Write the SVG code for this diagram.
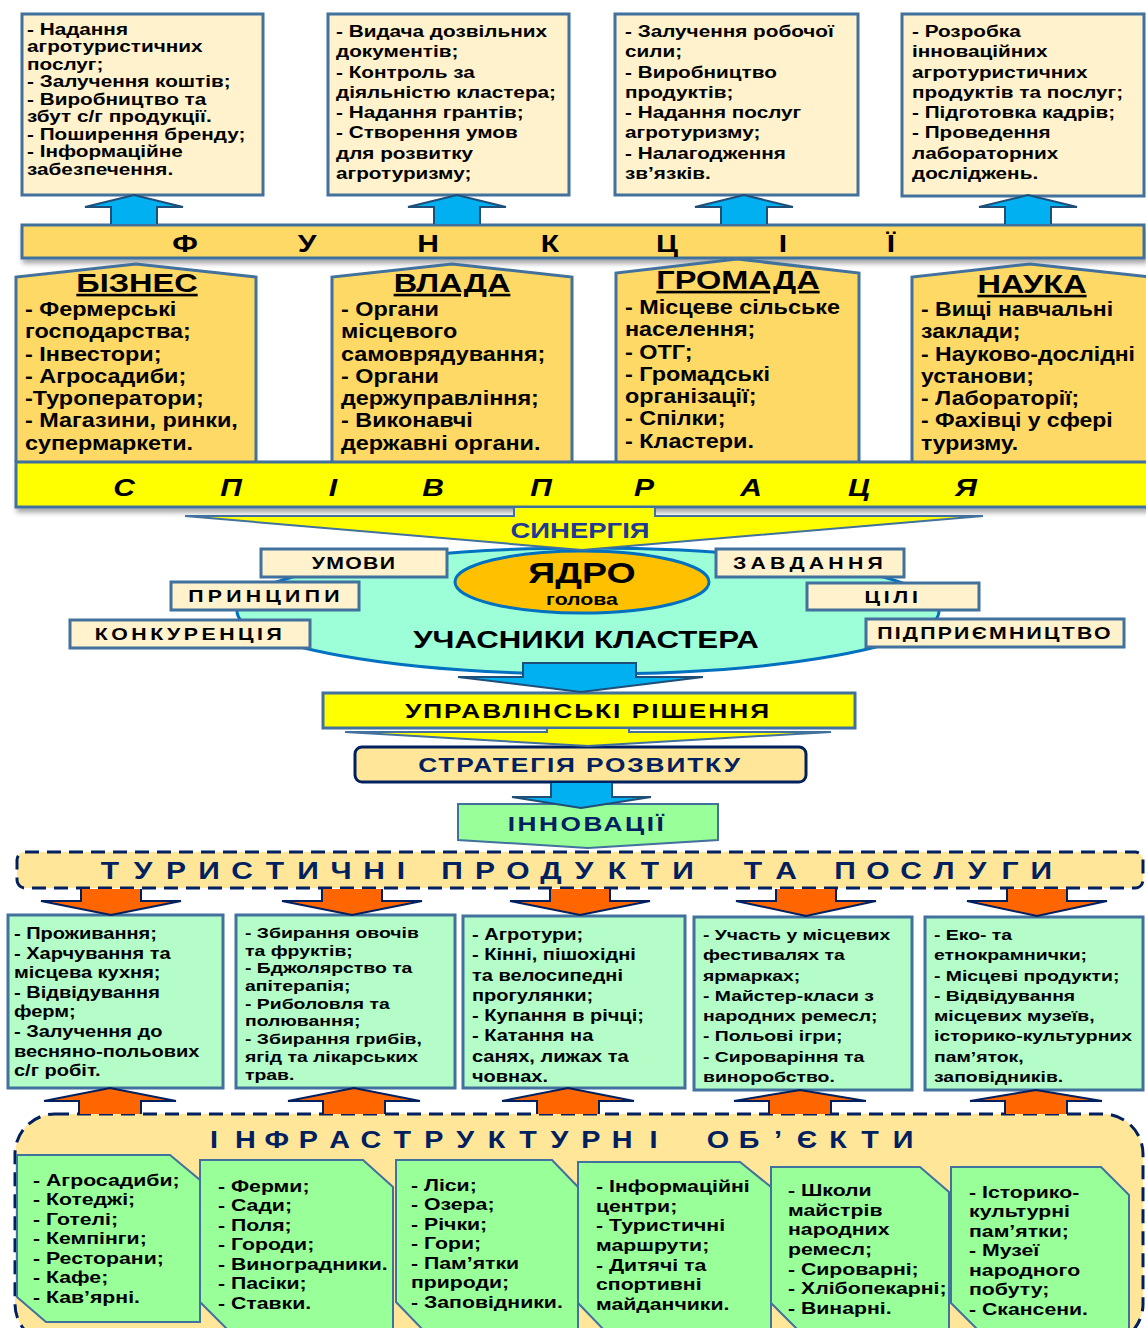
<svg xmlns="http://www.w3.org/2000/svg" width="1146" height="1328" viewBox="0 0 1146 1328">
<defs>
<style>
text{font-family:"Liberation Sans",Arial,sans-serif;font-weight:bold;fill:#000}
.f15{font-size:15.5px}
.f16{font-size:16px}
.f17{font-size:17px}
.f19{font-size:19.5px}
.f21{font-size:21px}
.f22{font-size:22px}
.f23{font-size:23px}
.f24{font-size:24px}
.f26{font-size:26px}
.f30{font-size:30px}
.navy{fill:#002060}
.cream{fill:#fff2cc;stroke:#41719c;stroke-width:3}
.gold{fill:#ffd966;stroke:#41719c;stroke-width:3}
.yel{fill:#ffff00;stroke:#41719c;stroke-width:3}
.mint{fill:#b4fcc8;stroke:#41719c;stroke-width:3}
.lime{fill:#99ff99;stroke:#41719c;stroke-width:2}
.dash{fill:#ffe699;stroke:#002060;stroke-width:3;stroke-dasharray:14 8}
.ab{fill:#00b0f0;stroke:#1f4e79;stroke-width:2}
.ao{fill:#ff6600;stroke:#002060;stroke-width:2}
.ay{fill:#ffff00;stroke:#41719c;stroke-width:2}
</style>
<filter id="sh" x="-5%" y="-30%" width="110%" height="180%">
<feDropShadow dx="2" dy="4" stdDeviation="2.5" flood-color="#000" flood-opacity="0.35"/>
</filter>
</defs>
<rect width="1146" height="1328" fill="#fff"/>

<!-- top function boxes -->
<g id="func-business">
<rect class="cream" x="22" y="14" width="241" height="181"/>
<text class="f17" transform="translate(27 0) scale(1.22 1)">
<tspan x="0" y="35">- Надання</tspan>
<tspan x="0" y="52.5">агротуристичних</tspan>
<tspan x="0" y="70">послуг;</tspan>
<tspan x="0" y="87.5">- Залучення коштів;</tspan>
<tspan x="0" y="105">- Виробництво та</tspan>
<tspan x="0" y="122.5">збут с/г продукції.</tspan>
<tspan x="0" y="140">- Поширення бренду;</tspan>
<tspan x="0" y="157.5">- Інформаційне</tspan>
<tspan x="0" y="175">забезпечення.</tspan>
</text>
</g>
<g id="func-power">
<rect class="cream" x="328" y="14" width="241" height="181"/>
<text class="f17" transform="translate(336 0) scale(1.22 1)">
<tspan x="0" y="37">- Видача дозвільних</tspan>
<tspan x="0" y="57.3">документів;</tspan>
<tspan x="0" y="77.6">- Контроль за</tspan>
<tspan x="0" y="97.9">діяльністю кластера;</tspan>
<tspan x="0" y="118.2">- Надання грантів;</tspan>
<tspan x="0" y="138.5">- Створення умов</tspan>
<tspan x="0" y="158.8">для розвитку</tspan>
<tspan x="0" y="179.1">агротуризму;</tspan>
</text>
</g>
<g id="func-community">
<rect class="cream" x="615" y="14" width="243" height="181"/>
<text class="f17" transform="translate(625 0) scale(1.22 1)">
<tspan x="0" y="37">- Залучення робочої</tspan>
<tspan x="0" y="57.3">сили;</tspan>
<tspan x="0" y="77.6">- Виробництво</tspan>
<tspan x="0" y="97.9">продуктів;</tspan>
<tspan x="0" y="118.2">- Надання послуг</tspan>
<tspan x="0" y="138.5">агротуризму;</tspan>
<tspan x="0" y="158.8">- Налагодження</tspan>
<tspan x="0" y="179.1">зв’язків.</tspan>
</text>
</g>
<g id="func-science">
<rect class="cream" x="902" y="14" width="242" height="182"/>
<text class="f17" transform="translate(912 0) scale(1.22 1)">
<tspan x="0" y="37">- Розробка</tspan>
<tspan x="0" y="57.3">інноваційних</tspan>
<tspan x="0" y="77.6">агротуристичних</tspan>
<tspan x="0" y="97.9">продуктів та послуг;</tspan>
<tspan x="0" y="118.2">- Підготовка кадрів;</tspan>
<tspan x="0" y="138.5">- Проведення</tspan>
<tspan x="0" y="158.8">лабораторних</tspan>
<tspan x="0" y="179.1">досліджень.</tspan>
</text>
</g>

<g id="band-functions">
<rect class="gold" x="22" y="225" width="1122" height="33" filter="url(#sh)"/>
<text class="f24" text-anchor="middle" transform="scale(1.25 1)" x="148 245.6 342.4 440 533.6 626.4 712.8" y="252">ФУНКЦІЇ</text>
</g>

<!-- stakeholders -->
<g id="business">
<path class="gold" d="M16,462 L16,277 L136,264 L256,277 L256,462"/>
<text class="f26" text-anchor="middle" text-decoration="underline" transform="translate(137 0) scale(1.25 1)"><tspan x="0" y="292">БІЗНЕС</tspan></text>
<text class="f19" transform="translate(25 0) scale(1.2 1)">
<tspan x="0" y="316">- Фермерські</tspan>
<tspan x="0" y="338.3">господарства;</tspan>
<tspan x="0" y="360.6">- Інвестори;</tspan>
<tspan x="0" y="382.9">- Агросадиби;</tspan>
<tspan x="0" y="405.2">-Туроператори;</tspan>
<tspan x="0" y="427.5">- Магазини, ринки,</tspan>
<tspan x="0" y="449.8">супермаркети.</tspan>
</text>
</g>
<g id="power">
<path class="gold" d="M332,462 L332,277 L452,264 L572,277 L572,462"/>
<text class="f26" text-anchor="middle" text-decoration="underline" transform="translate(452 0) scale(1.25 1)"><tspan x="0" y="292">ВЛАДА</tspan></text>
<text class="f19" transform="translate(341 0) scale(1.2 1)">
<tspan x="0" y="316">- Органи</tspan>
<tspan x="0" y="338.3">місцевого</tspan>
<tspan x="0" y="360.6">самоврядування;</tspan>
<tspan x="0" y="382.9">- Органи</tspan>
<tspan x="0" y="405.2">держуправління;</tspan>
<tspan x="0" y="427.5">- Виконавчі</tspan>
<tspan x="0" y="449.8">державні органи.</tspan>
</text>
</g>
<g id="community">
<path class="gold" d="M616,464 L616,273 L737,259 L859,273 L859,464"/>
<text class="f26" text-anchor="middle" text-decoration="underline" transform="translate(738 0) scale(1.25 1)"><tspan x="0" y="289">ГРОМАДА</tspan></text>
<text class="f19" transform="translate(625 0) scale(1.2 1)">
<tspan x="0" y="314">- Місцеве сільське</tspan>
<tspan x="0" y="336.3">населення;</tspan>
<tspan x="0" y="358.6">- ОТГ;</tspan>
<tspan x="0" y="380.9">- Громадські</tspan>
<tspan x="0" y="403.2">організації;</tspan>
<tspan x="0" y="425.5">- Спілки;</tspan>
<tspan x="0" y="447.8">- Кластери.</tspan>
</text>
</g>
<g id="science">
<path class="gold" d="M912,462 L912,277 L1030,264 L1150,277 L1150,462"/>
<text class="f26" text-anchor="middle" text-decoration="underline" transform="translate(1032 0) scale(1.25 1)"><tspan x="0" y="293">НАУКА</tspan></text>
<text class="f19" transform="translate(921 0) scale(1.18 1)">
<tspan x="0" y="316">- Вищі навчальні</tspan>
<tspan x="0" y="338.3">заклади;</tspan>
<tspan x="0" y="360.6">- Науково-дослідні</tspan>
<tspan x="0" y="382.9">установи;</tspan>
<tspan x="0" y="405.2">- Лабораторії;</tspan>
<tspan x="0" y="427.5">- Фахівці у сфері</tspan>
<tspan x="0" y="449.8">туризму.</tspan>
</text>
</g>

<g id="band-cooperation">
<rect class="yel" x="16" y="462" width="1132" height="45" filter="url(#sh)"/>
<text class="f24" font-style="italic" text-anchor="middle" transform="scale(1.25 1)" x="99.2 184.8 266.4 346.4 432.8 515.2 600.8 687.2 772.8" y="496">СПІВПРАЦЯ</text>
</g>

<!-- cluster participants -->
<g id="participants">
<ellipse cx="588" cy="611" rx="351" ry="63" fill="#9dffd8" stroke="#0070c0" stroke-width="3"/>
<ellipse cx="582" cy="582" rx="127" ry="31" fill="#ffc000" stroke="#0070c0" stroke-width="3"/>
<text class="f30" text-anchor="middle" transform="translate(582 0) scale(1.25 1)"><tspan x="0" y="583">ЯДРО</tspan></text>
<text class="f17" text-anchor="middle" transform="translate(582 0) scale(1.25 1)"><tspan x="0" y="605">голова</tspan></text>
<text class="f24" text-anchor="middle" transform="translate(586 0) scale(1.3 1)"><tspan x="0" y="648">УЧАСНИКИ КЛАСТЕРА</tspan></text>
</g>
<g id="conditions">
<rect class="cream" x="261" y="549" width="186" height="28"/>
<text class="f17" text-anchor="middle" letter-spacing="1" transform="translate(354 0) scale(1.25 1)"><tspan x="0" y="569">УМОВИ</tspan></text>
</g>
<g id="principles">
<rect class="cream" x="171" y="582" width="188" height="28"/>
<text class="f17" text-anchor="middle" letter-spacing="3.4" transform="translate(266 0) scale(1.25 1)"><tspan x="0" y="602">ПРИНЦИПИ</tspan></text>
</g>
<g id="competition">
<rect class="cream" x="70" y="620" width="240" height="28"/>
<text class="f17" text-anchor="middle" letter-spacing="2.8" transform="translate(190 0) scale(1.25 1)"><tspan x="0" y="640">КОНКУРЕНЦІЯ</tspan></text>
</g>
<g id="tasks">
<rect class="cream" x="716" y="549" width="188" height="28"/>
<text class="f17" text-anchor="middle" letter-spacing="3.4" transform="translate(810 0) scale(1.25 1)"><tspan x="0" y="569">ЗАВДАННЯ</tspan></text>
</g>
<g id="goals">
<rect class="cream" x="807" y="583" width="172" height="27"/>
<text class="f17" text-anchor="middle" letter-spacing="3" transform="translate(893 0) scale(1.25 1)"><tspan x="0" y="603">ЦІЛІ</tspan></text>
</g>
<g id="entrepreneurship">
<rect class="cream" x="866" y="619" width="258" height="28"/>
<text class="f17" text-anchor="middle" letter-spacing="1.8" transform="translate(995 0) scale(1.25 1)"><tspan x="0" y="639">ПІДПРИЄМНИЦТВО</tspan></text>
</g>

<g id="decisions">
<rect class="yel" x="323" y="693" width="532" height="35"/>
<text class="f21" text-anchor="middle" letter-spacing="1.6" transform="translate(588 0) scale(1.25 1)"><tspan x="0" y="718.5">УПРАВЛІНСЬКІ РІШЕННЯ</tspan></text>
</g>
<g id="strategy">
<rect x="355" y="747" width="451" height="35" rx="7" fill="#ffe699" stroke="#002060" stroke-width="3"/>
<text class="f21 navy" text-anchor="middle" letter-spacing="1.5" transform="translate(580 0) scale(1.25 1)"><tspan x="0" y="772.5">СТРАТЕГІЯ РОЗВИТКУ</tspan></text>
</g>
<g id="innovations">
<path class="lime" stroke-width="3" d="M458,804 L718,804 L718,840 L588,848 L458,840 Z"/>
<text class="f21 navy" text-anchor="middle" letter-spacing="2" transform="translate(587 0) scale(1.25 1)"><tspan x="0" y="831.5">ІННОВАЦІЇ</tspan></text>
</g>

<g id="tourist-products">
<rect class="dash" x="17" y="852" width="1126" height="36" rx="8"/>
<text class="f24 navy" text-anchor="middle" transform="scale(1.25 1)" y="879.5"><tspan x="88 114.4 140.8 167.2 193.6 220 246.4 272.8 299.2 320.8">ТУРИСТИЧНІ</tspan><tspan x="361.6 388 414.4 440.8 467.2 493.6 520 546.4">ПРОДУКТИ</tspan><tspan x="602.4 628.8">ТА</tspan><tspan x="676 702.4 728.8 755.2 781.6 808 833">ПОСЛУГИ</tspan></text>
</g>

<!-- product boxes -->
<g id="prod-stay">
<rect class="mint" x="8" y="915" width="215" height="173"/>
<text class="f16" transform="translate(14 0) scale(1.25 1)">
<tspan x="0" y="939">- Проживання;</tspan>
<tspan x="0" y="958.6">- Харчування та</tspan>
<tspan x="0" y="978.2">місцева кухня;</tspan>
<tspan x="0" y="997.8">- Відвідування</tspan>
<tspan x="0" y="1017.4">ферм;</tspan>
<tspan x="0" y="1037">- Залучення до</tspan>
<tspan x="0" y="1056.6">весняно-польових</tspan>
<tspan x="0" y="1076.2">с/г робіт.</tspan>
</text>
</g>
<g id="prod-gathering">
<rect class="mint" x="236" y="915" width="219" height="173"/>
<text class="f15" transform="translate(245 0) scale(1.25 1)">
<tspan x="0" y="938">- Збирання овочів</tspan>
<tspan x="0" y="955.7">та фруктів;</tspan>
<tspan x="0" y="973.4">- Бджолярство та</tspan>
<tspan x="0" y="991.1">апітерапія;</tspan>
<tspan x="0" y="1008.8">- Риболовля та</tspan>
<tspan x="0" y="1026.5">полювання;</tspan>
<tspan x="0" y="1044.2">- Збирання грибів,</tspan>
<tspan x="0" y="1061.9">ягід та лікарських</tspan>
<tspan x="0" y="1079.6">трав.</tspan>
</text>
</g>
<g id="prod-tours">
<rect class="mint" x="463" y="916" width="222" height="172"/>
<text class="f16" transform="translate(472 0) scale(1.25 1)">
<tspan x="0" y="940">- Агротури;</tspan>
<tspan x="0" y="960.3">- Кінні, пішохідні</tspan>
<tspan x="0" y="980.6">та велосипедні</tspan>
<tspan x="0" y="1000.9">прогулянки;</tspan>
<tspan x="0" y="1021.2">- Купання в річці;</tspan>
<tspan x="0" y="1041.5">- Катання на</tspan>
<tspan x="0" y="1061.8">санях, лижах та</tspan>
<tspan x="0" y="1082.1">човнах.</tspan>
</text>
</g>
<g id="prod-festivals">
<rect class="mint" x="694" y="917" width="218" height="173"/>
<text class="f15" transform="translate(703 0) scale(1.25 1)">
<tspan x="0" y="940">- Участь у місцевих</tspan>
<tspan x="0" y="960.3">фестивалях та</tspan>
<tspan x="0" y="980.6">ярмарках;</tspan>
<tspan x="0" y="1000.9">- Майстер-класи з</tspan>
<tspan x="0" y="1021.2">народних ремесл;</tspan>
<tspan x="0" y="1041.5">- Польові ігри;</tspan>
<tspan x="0" y="1061.8">- Сироваріння та</tspan>
<tspan x="0" y="1082.1">виноробство.</tspan>
</text>
</g>
<g id="prod-shops">
<rect class="mint" x="925" y="917" width="218" height="173"/>
<text class="f15" transform="translate(934 0) scale(1.25 1)">
<tspan x="0" y="940">- Еко- та</tspan>
<tspan x="0" y="960.3">етнокрамнички;</tspan>
<tspan x="0" y="980.6">- Місцеві продукти;</tspan>
<tspan x="0" y="1000.9">- Відвідування</tspan>
<tspan x="0" y="1021.2">місцевих музеїв,</tspan>
<tspan x="0" y="1041.5">історико-культурних</tspan>
<tspan x="0" y="1061.8">пам’яток,</tspan>
<tspan x="0" y="1082.1">заповідників.</tspan>
</text>
</g>

<!-- infrastructure -->
<g id="infrastructure">
<rect class="dash" x="15" y="1114" width="1128" height="230" rx="40"/>
<text class="f23 navy" text-anchor="middle" transform="scale(1.25 1)" y="1148"><tspan x="171.2 196.3 221.4 246.6 271.7 296.8 321.9 347 372.2 397.3 422.4 447.5 472.6 497.8 522.9">ІНФРАСТРУКТУРНІ</tspan><tspan x="574.4 599.2 622.4 645.6 670.4 696 722.4">ОБ’ЄКТИ</tspan></text>
</g>
<g id="infra-lodging">
<path class="lime" d="M17,1155 L170,1155 L200,1180 L200,1322 L46,1322 L17,1297 Z"/>
<text class="f17" transform="translate(33 0) scale(1.25 1)">
<tspan x="0" y="1186">- Агросадиби;</tspan>
<tspan x="0" y="1205.5">- Котеджі;</tspan>
<tspan x="0" y="1225">- Готелі;</tspan>
<tspan x="0" y="1244.5">- Кемпінги;</tspan>
<tspan x="0" y="1264">- Ресторани;</tspan>
<tspan x="0" y="1283.5">- Кафе;</tspan>
<tspan x="0" y="1303">- Кав’ярні.</tspan>
</text>
</g>
<g id="infra-farms">
<path class="lime" d="M200,1160 L363,1160 L393,1187 L393,1332 L230,1332 L200,1302 Z"/>
<text class="f17" transform="translate(218 0) scale(1.25 1)">
<tspan x="0" y="1192">- Ферми;</tspan>
<tspan x="0" y="1211.5">- Сади;</tspan>
<tspan x="0" y="1231">- Поля;</tspan>
<tspan x="0" y="1250.5">- Городи;</tspan>
<tspan x="0" y="1270">- Виноградники.</tspan>
<tspan x="0" y="1289.5">- Пасіки;</tspan>
<tspan x="0" y="1309">- Ставки.</tspan>
</text>
</g>
<g id="infra-nature">
<path class="lime" d="M396,1160 L552,1160 L578,1187 L578,1332 L425,1332 L396,1302 Z"/>
<text class="f17" transform="translate(411 0) scale(1.25 1)">
<tspan x="0" y="1191">- Ліси;</tspan>
<tspan x="0" y="1210.5">- Озера;</tspan>
<tspan x="0" y="1230">- Річки;</tspan>
<tspan x="0" y="1249.5">- Гори;</tspan>
<tspan x="0" y="1269">- Пам’ятки</tspan>
<tspan x="0" y="1288.5">природи;</tspan>
<tspan x="0" y="1308">- Заповідники.</tspan>
</text>
</g>
<g id="infra-info">
<path class="lime" d="M578,1162 L740,1162 L771,1187 L771,1332 L606,1332 L578,1303 Z"/>
<text class="f17" transform="translate(596 0) scale(1.25 1)">
<tspan x="0" y="1192">- Інформаційні</tspan>
<tspan x="0" y="1211.7">центри;</tspan>
<tspan x="0" y="1231.4">- Туристичні</tspan>
<tspan x="0" y="1251.1">маршрути;</tspan>
<tspan x="0" y="1270.8">- Дитячі та</tspan>
<tspan x="0" y="1290.5">спортивні</tspan>
<tspan x="0" y="1310.2">майданчики.</tspan>
</text>
</g>
<g id="infra-crafts">
<path class="lime" d="M771,1167 L920,1167 L949,1192 L949,1332 L800,1332 L771,1303 Z"/>
<text class="f17" transform="translate(788 0) scale(1.25 1)">
<tspan x="0" y="1196">- Школи</tspan>
<tspan x="0" y="1215.7">майстрів</tspan>
<tspan x="0" y="1235.4">народних</tspan>
<tspan x="0" y="1255.1">ремесл;</tspan>
<tspan x="0" y="1274.8">- Сироварні;</tspan>
<tspan x="0" y="1294.5">- Хлібопекарні;</tspan>
<tspan x="0" y="1314.2">- Винарні.</tspan>
</text>
</g>
<g id="infra-heritage">
<path class="lime" d="M951,1167 L1101,1167 L1129,1195 L1129,1332 L980,1332 L951,1303 Z"/>
<text class="f17" transform="translate(969 0) scale(1.25 1)">
<tspan x="0" y="1198">- Історико-</tspan>
<tspan x="0" y="1217.5">культурні</tspan>
<tspan x="0" y="1237">пам’ятки;</tspan>
<tspan x="0" y="1256.5">- Музеї</tspan>
<tspan x="0" y="1276">народного</tspan>
<tspan x="0" y="1295.5">побуту;</tspan>
<tspan x="0" y="1315">- Скансени.</tspan>
</text>
</g>

<!-- connectors -->
<g id="connectors">
<path class="ab" d="M111,224 L111,207 L85,207 L134,195 L183,207 L157,207 L157,224"/>
<path class="ab" d="M434,224 L434,207 L408,207 L457,195 L506,207 L480,207 L480,224"/>
<path class="ab" d="M721,224 L721,207 L695,207 L744,195 L793,207 L767,207 L767,224"/>
<path class="ab" d="M1005,224 L1005,207 L979,207 L1028,195 L1077,207 L1051,207 L1051,224"/>
<path class="ay" d="M514,508 L514,516 L185,516 L582,550 L983,516 L655,516 L655,508"/>
<text class="f22" text-anchor="middle" transform="translate(580 0) scale(1.25 1)" style="fill:#1f3a93"><tspan x="0" y="538">СИНЕРГІЯ</tspan></text>
<path class="ab" stroke="#002060" d="M523,663 L636,663 L636,677 L703,677 L581,692 L458,677 L523,677 Z"/>
<path class="ay" d="M547,729 L547,732 L345,732 L588,746 L831,732 L629,732 L629,729"/>
<path class="ab" stroke="#002060" d="M551,783 L551,797 L512,797 L581,808 L651,797 L612,797 L612,783"/>
<path class="ao" d="M81,889 L81,901 L41,901 L111,915 L181,901 L141,901 L141,889"/>
<path class="ao" d="M322,889 L322,901 L282,901 L352,915 L422,901 L382,901 L382,889"/>
<path class="ao" d="M550,889 L550,901 L510,901 L580,915 L650,901 L610,901 L610,889"/>
<path class="ao" d="M776,889 L776,901 L736,901 L806,916 L876,901 L836,901 L836,889"/>
<path class="ao" d="M1007,889 L1007,901 L967,901 L1037,916 L1107,901 L1067,901 L1067,889"/>
<path class="ao" d="M79,1114 L79,1101 L44,1101 L110,1088 L176,1101 L141,1101 L141,1114"/>
<path class="ao" d="M323,1114 L323,1101 L288,1101 L354,1088 L420,1101 L385,1101 L385,1114"/>
<path class="ao" d="M537,1114 L537,1101 L502,1101 L568,1088 L634,1101 L599,1101 L599,1114"/>
<path class="ao" d="M769,1114 L769,1101 L734,1101 L800,1090 L866,1101 L831,1101 L831,1114"/>
<path class="ao" d="M1005,1114 L1005,1101 L970,1101 L1036,1090 L1102,1101 L1067,1101 L1067,1114"/>
</g>
</svg>
